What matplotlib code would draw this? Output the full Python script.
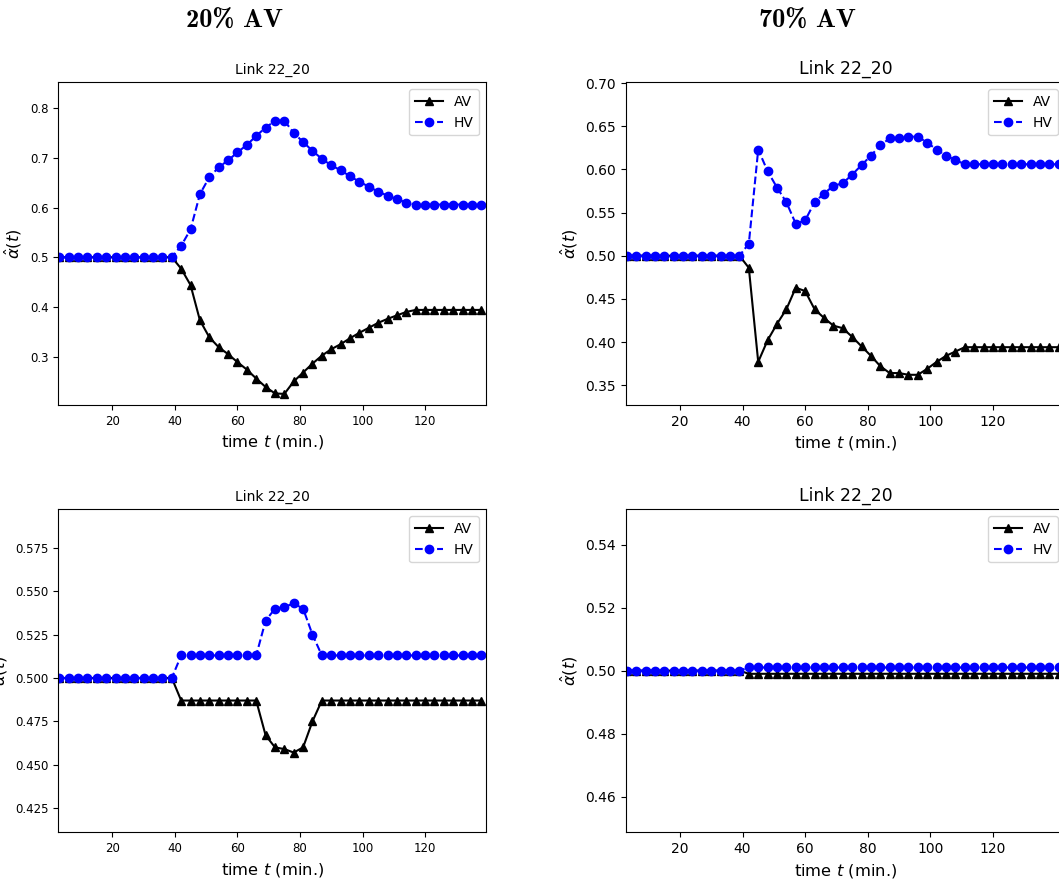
import matplotlib
matplotlib.use('Agg')
import matplotlib.pyplot as plt
from matplotlib.ticker import FormatStrFormatter

# time steps (min.)
t_left = list(range(3, 139, 3))    # 3 .. 138
t_right = list(range(3, 142, 3))   # 3 .. 141

# 20% AV, top
hv_20a = [0.5] * 13 + [0.523, 0.556, 0.627, 0.661, 0.681, 0.695, 0.711, 0.726, 0.744,
                       0.761, 0.774, 0.775, 0.750, 0.732, 0.714, 0.698, 0.685, 0.675,
                       0.663, 0.652, 0.642, 0.632, 0.624, 0.617, 0.610] + [0.606] * 8
av_20a = [0.5] * 13 + [0.477, 0.444, 0.373, 0.339, 0.319, 0.305, 0.289, 0.274, 0.256,
                       0.239, 0.226, 0.225, 0.250, 0.268, 0.286, 0.302, 0.315, 0.325,
                       0.337, 0.348, 0.358, 0.368, 0.376, 0.383, 0.390] + [0.394] * 8

# 70% AV, top
hv_70a = [0.5] * 13 + [0.514, 0.623, 0.598, 0.579, 0.562, 0.537, 0.541, 0.562, 0.572,
                       0.581, 0.584, 0.594, 0.605, 0.616, 0.628, 0.636, 0.636, 0.638,
                       0.638, 0.631, 0.623, 0.616, 0.611] + [0.606] * 11
av_70a = [0.5] * 13 + [0.486, 0.377, 0.402, 0.421, 0.438, 0.463, 0.459, 0.438, 0.428,
                       0.419, 0.416, 0.406, 0.395, 0.384, 0.372, 0.364, 0.364, 0.362,
                       0.362, 0.369, 0.377, 0.384, 0.389] + [0.394] * 11

# 20% AV, bottom
hv_20b = [0.5] * 13 + [0.513] * 9 + [0.533, 0.540, 0.541, 0.543, 0.540, 0.525] + [0.513] * 18
av_20b = [0.5] * 13 + [0.487] * 9 + [0.467, 0.460, 0.459, 0.457, 0.460, 0.475] + [0.487] * 18

# 70% AV, bottom
hv_70b = [0.5] * 13 + [0.501] * 34
av_70b = [0.5] * 13 + [0.499] * 34

headers = ['20% AV', '70% AV']

W, H = 1059, 884
fig = plt.figure(figsize=(W / 100, H / 100), dpi=100)


def px_axes(x0, x1, y0, y1):
    return fig.add_axes([x0 / W, 1 - y1 / H, (x1 - x0) / W, (y1 - y0) / H])


def draw(ax, t, av, hv, tick_fs, title_fs):
    ax.plot(t, av, '-^', color='k', label='AV')
    ax.plot(t, hv, '--o', color='b', label='HV')
    ax.set_title('Link 22_20', fontsize=title_fs)
    ax.set_xlabel('time $t$ (min.)', fontsize=11.8)
    ax.set_ylabel(r'$\hat{\alpha}(t)$', fontsize=11.8)
    ax.tick_params(labelsize=tick_fs)
    ax.set_xticks([20, 40, 60, 80, 100, 120])
    ax.legend(loc='upper right', fontsize=10)


ax1 = px_axes(58.3, 486, 82.3, 405)
draw(ax1, t_left, av_20a, hv_20a, 8.5, 10)
ax1.set_xlim(2.7, 139.5)
ax1.set_ylim(0.2027, 0.852)
ax1.set_yticks([0.3, 0.4, 0.5, 0.6, 0.7, 0.8])

ax2 = px_axes(625.7, 1065, 82.3, 405)
draw(ax2, t_right, av_70a, hv_70a, 10, 12.4)
ax2.set_xlim(2.67, 143)
ax2.set_ylim(0.327, 0.701)
ax2.set_yticks([0.35, 0.40, 0.45, 0.50, 0.55, 0.60, 0.65, 0.70])
ax2.yaxis.set_major_formatter(FormatStrFormatter('%.2f'))

ax3 = px_axes(58.3, 486, 509.3, 832.3)
draw(ax3, t_left, av_20b, hv_20b, 8.5, 10)
ax3.set_xlim(2.7, 139.5)
ax3.set_ylim(0.411, 0.5973)
ax3.set_yticks([0.425, 0.450, 0.475, 0.500, 0.525, 0.550, 0.575])
ax3.yaxis.set_major_formatter(FormatStrFormatter('%.3f'))

ax4 = px_axes(625.7, 1065, 509.3, 832.3)
draw(ax4, t_right, av_70b, hv_70b, 10, 12.4)
ax4.set_xlim(2.67, 143)
ax4.set_ylim(0.4487, 0.5512)
ax4.set_yticks([0.46, 0.48, 0.50, 0.52, 0.54])
ax4.yaxis.set_major_formatter(FormatStrFormatter('%.2f'))

# column headers in a bold Computer Modern face
for xc, txt in zip([234, 807], headers):
    fig.text(xc / W, 1 - 21 / H, txt, fontsize=19,
             family=['cmb10', 'DejaVu Serif'], ha='center', va='center')

fig.savefig('out.png', dpi=100)
